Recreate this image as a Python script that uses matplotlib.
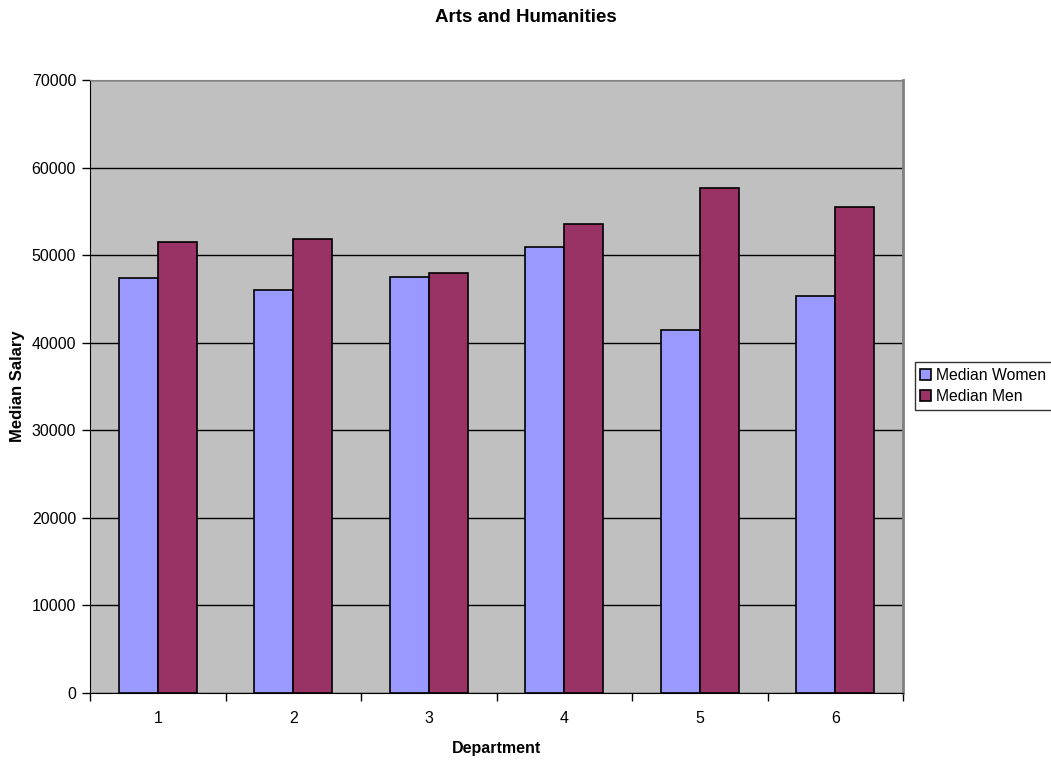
import matplotlib
matplotlib.use("Agg")
import matplotlib.pyplot as plt
import numpy as np

plt.rcParams['font.family'] = ['Liberation Sans', 'DejaVu Sans']

# median salary per department
departments = [1, 2, 3, 4, 5, 6]
median_women = [47400, 46000, 47500, 50900, 41400, 45300]
median_men = [51500, 51800, 48000, 53500, 57700, 55500]

W, H = 1051, 762
fig = plt.figure(figsize=(W / 100, H / 100), dpi=100)
ax = fig.add_axes([90 / W, 1 - 693 / H, 813 / W, 613 / H])
ax.set_facecolor('#C0C0C0')

x = np.arange(len(departments))
w = 0.286
ax.bar(x - w / 2, median_women, w, color='#9999FF', edgecolor='black', linewidth=1.2,
       label='Median Women', zorder=3)
ax.bar(x + w / 2, median_men, w, color='#993366', edgecolor='black', linewidth=1.2,
       label='Median Men', zorder=3)

ax.set_xlim(-0.5, len(departments) - 0.5)
ax.set_ylim(0, 70000)
ax.set_yticks(range(0, 70001, 10000))
ax.yaxis.grid(True, color='black', linewidth=1)
ax.set_axisbelow(True)

# category labels centred, tick marks between categories
ax.set_xticks(x)
ax.set_xticklabels([str(d) for d in departments])
ax.set_xticks(np.arange(-0.5, len(departments)), minor=True)
ax.tick_params(axis='x', which='major', length=0, pad=13, labelsize=11.5)
ax.tick_params(axis='x', which='minor', length=6, width=1, color='black')
ax.tick_params(axis='y', length=6, width=1, labelsize=11.5, pad=4)

ax.spines['left'].set_color('black')
ax.spines['bottom'].set_color('black')
ax.spines['top'].set_color('#808080')
ax.spines['right'].set_color('#808080')
ax.spines['right'].set_linewidth(2)

fig.text(0.5, 1 - 18 / H, 'Arts and Humanities', fontsize=13.5, fontweight='bold',
         ha='center', va='center')
fig.text(496.5 / W, 1 - 748 / H, 'Department', fontsize=11.5, fontweight='bold',
         ha='center', va='center')
fig.text(18 / W, 1 - 386.5 / H, 'Median Salary', fontsize=12, fontweight='bold',
         rotation=90, ha='center', va='center')

leg = ax.legend(loc='center left', bbox_to_anchor=(915 / W, 1 - 386 / H),
                bbox_transform=fig.transFigure, fontsize=11.3,
                frameon=True, fancybox=False, edgecolor='black',
                handlelength=0.7, handleheight=0.7, handletextpad=0.3,
                borderpad=0.35, labelspacing=0.4, borderaxespad=0)
leg.get_frame().set_linewidth(1)

fig.savefig('out.png', dpi=100)
